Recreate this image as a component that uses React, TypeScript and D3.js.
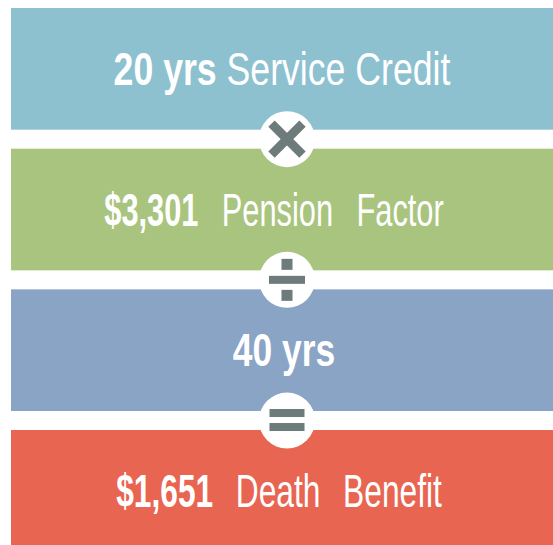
import React from "react";
import * as d3 from "d3";

const boldParts = ["20 yrs", "$3,301", "40 yrs", "$1,651"];
const regularParts = ["Service Credit", "Pension Factor", "", "Death Benefit"];
const bandColors = ["#8dc1d0", "#a9c47e", "#8aa4c6", "#e86552"];
const operators = ["times", "divide", "equals"];

const W = 553;
const H = 545;
const GRAY = "#6e7b7b";

// per-row typographic layout (condensing, word spacing, center)
const rowScale = [0.775, 0.67, 0.77, 0.69];
const rowWordSpacing = [0, 22, 0, 20];
const rowCenter = [282, 274, 284, 279];

export default function App() {
  const idx = boldParts.map((_, i) => i);
  const y = d3.scaleBand<number>().domain(idx).range([8, 551.7]).paddingInner(0.135).paddingOuter(0);
  const bw = y.bandwidth();
  const x0 = 11;
  const cx = 287;
  const font = "'Liberation Sans', Arial, sans-serif";

  return (
    <svg width={W} height={H} style={{ position: "absolute", left: 0, top: 0 }}>
      <rect x={0} y={0} width={W} height={H} fill="#ffffff" />
      {idx.map((i) => (
        <rect key={"b" + i} x={x0} y={y(i)} width={W - x0} height={bw} fill={bandColors[i]} />
      ))}
      {idx.map((i) => {
        const cy = (y(i) as number) + bw / 2 + 16;
        return (
          <g key={"t" + i} transform={`translate(${rowCenter[i]},${cy}) scale(${rowScale[i]},1)`}>
            <text
              x={0}
              y={0}
              textAnchor="middle"
              fill="#ffffff"
              fontFamily={font}
              fontSize={46}
              style={{ wordSpacing: rowWordSpacing[i] + "px" }}
            >
              <tspan fontWeight="bold">{boldParts[i]}</tspan>
              {regularParts[i] ? <tspan fontWeight="normal">{" " + regularParts[i]}</tspan> : null}
            </text>
          </g>
        );
      })}
      {operators.map((op, i) => {
        const top = (y(i) as number) + bw;
        const next = y(i + 1) as number;
        const cy = (top + next) / 2;
        return (
          <g key={"o" + i} transform={`translate(${cx},${cy})`}>
            <circle r={28} fill="#ffffff" />
            {op === "times" && (
              <g stroke={GRAY} strokeWidth={9}>
                <line x1={-15.5} y1={-15.5} x2={15.5} y2={15.5} />
                <line x1={-15.5} y1={15.5} x2={15.5} y2={-15.5} />
              </g>
            )}
            {op === "divide" && (
              <g fill={GRAY}>
                <rect x={-18} y={-4} width={36} height={8} />
                <rect x={-5.5} y={-21} width={11} height={11} />
                <rect x={-5.5} y={10} width={11} height={11} />
              </g>
            )}
            {op === "equals" && (
              <g fill={GRAY}>
                <rect x={-17.5} y={-11.5} width={35} height={8} />
                <rect x={-17.5} y={2.5} width={35} height={8} />
              </g>
            )}
          </g>
        );
      })}
    </svg>
  );
}
